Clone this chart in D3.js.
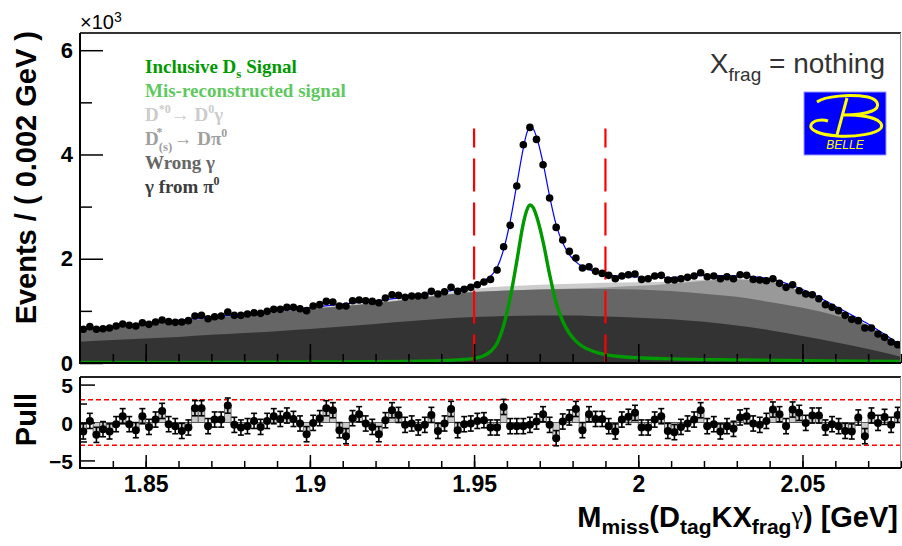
<!DOCTYPE html>
<html lang="en">
<head>
<meta charset="utf-8">
<script src="https://cdn.jsdelivr.net/npm/d3@7"></script>
<style>
  body { margin: 0; background: #fff; }
  svg { display: block; }
  .axis text { font-family: "Liberation Sans", Arial, sans-serif; font-weight: bold; fill: #000; }
  .axis line { stroke: #000; stroke-width: 1.5px; }
  .legend { font-family: "Liberation Serif", "Times New Roman", serif; font-weight: bold; font-size: 19px; }
  .title { font-family: "Liberation Sans", Arial, sans-serif; font-weight: bold; font-size: 29px; }
</style>
</head>
<body>
<svg width="902" height="546"></svg>
<script>
// binning of the histogram (GeV)
var binLow = 1.83, binWidth = 0.002;

// events per bin, in units of 10^3
var events = [
  0.646, 0.697, 0.646, 0.658, 0.671, 0.710, 0.748, 0.722, 0.710, 0.773,
  0.741, 0.786, 0.825, 0.793, 0.780, 0.786, 0.812, 0.901, 0.914, 0.850,
  0.888, 0.901, 0.978, 0.914, 0.914, 0.940, 0.965, 0.952, 0.991, 1.029,
  1.029, 1.067, 1.067, 1.042, 1.004, 1.093, 1.119, 1.182, 1.170, 1.093,
  1.093, 1.195, 1.208, 1.195, 1.182, 1.157, 1.246, 1.310, 1.297, 1.259,
  1.285, 1.285, 1.297, 1.374, 1.323, 1.368, 1.451, 1.374, 1.413, 1.451,
  1.502, 1.553, 1.604, 1.783, 2.231, 2.640, 3.394, 4.187, 4.519, 4.289,
  3.803, 3.164, 2.601, 2.359, 2.141, 2.013, 1.822, 1.847, 1.758, 1.719,
  1.681, 1.617, 1.668, 1.694, 1.707, 1.604, 1.617, 1.668, 1.681, 1.592,
  1.592, 1.617, 1.643, 1.668, 1.732, 1.655, 1.668, 1.617, 1.655, 1.617,
  1.694, 1.681, 1.604, 1.592, 1.579, 1.617, 1.528, 1.451, 1.502, 1.387,
  1.323, 1.310, 1.233, 1.119, 1.067, 1.004, 0.914, 0.837, 0.812, 0.671,
  0.671, 0.556, 0.492, 0.403, 0.352
];

// pull per bin
var pulls = [
  -1.18, 0.21, -1.63, -0.88, -1.18, -0.22, 0.83, -0.22, -1.01, 0.83,
  -0.58, 0.39, 1.53, -0.22, -0.48, -1.11, -0.66, 1.88, 1.88, -0.48,
  0.39, 0.39, 2.23, -0.31, -0.66, -0.48, 0.21, -0.58, 0.21, 0.83,
  0.47, 0.92, 0.47, -0.13, -1.54, -0.05, 0.57, 1.88, 1.62, -1.01,
  -1.80, 0.57, 1.09, -0.13, -0.58, -1.54, 0.30, 1.62, 1.00, -0.31,
  -0.13, -0.66, -0.31, 1.00, -1.11, -0.13, 1.79, -1.01, -0.22, -0.13,
  0.21, 0.30, -0.66, -0.66, 2.05, -0.48, -0.48, -0.48, -0.31, 0.13,
  1.09, -0.31, -2.07, 0.13, 0.66, 1.79, -1.01, 1.09, 0.47, 0.47,
  -0.48, -1.18, 0.39, 0.75, 1.27, -0.66, -0.66, 0.39, 0.83, -1.11,
  -1.27, -0.58, -0.13, 0.39, 1.62, -0.48, -0.22, -1.18, -0.48, -0.84,
  0.66, 0.83, -0.13, -0.31, 0.21, 1.71, 1.09, -0.48, 1.71, 1.27,
  -0.05, 0.92, 0.92, -0.66, -0.22, -0.48, -1.11, -1.18, 0.66, -1.80,
  0.92, -0.05, 0.74, -0.31, 1.00
];

// background components (stacked), sampled every 10 MeV
var compX = [1.83, 1.84, 1.85, 1.86, 1.87, 1.88, 1.89, 1.90, 1.91, 1.92, 1.93, 1.94, 1.95,
             1.96, 1.97, 1.98, 1.99, 2.00, 2.01, 2.02, 2.03, 2.04, 2.05, 2.06, 2.07, 2.08];
var gammaFromPi0 = [0.41, 0.44, 0.47, 0.50, 0.54, 0.575, 0.61, 0.65, 0.70, 0.75, 0.80, 0.85, 0.88,
                    0.90, 0.91, 0.91, 0.89, 0.87, 0.84, 0.79, 0.72, 0.63, 0.52, 0.40, 0.27, 0.12];
var wrongGamma = [0.21, 0.24, 0.27, 0.30, 0.32, 0.345, 0.37, 0.39, 0.39, 0.40, 0.42, 0.45, 0.48,
                  0.49, 0.50, 0.51, 0.53, 0.54, 0.54, 0.54, 0.55, 0.54, 0.54, 0.51, 0.43, 0.18];
var dsToDPi0 = [0, 0, 0, 0, 0, 0, 0, 0, 0, 0, 0, 0, 0,
                0, 0, 0.01, 0.03, 0.07, 0.14, 0.25, 0.33, 0.39, 0.30, 0.13, 0.02, 0];
var dStarToD0Gamma = [0.01, 0.01, 0.01, 0.01, 0.01, 0.01, 0.01, 0.01, 0.02, 0.02, 0.02, 0.03, 0.06,
                      0.08, 0.09, 0.09, 0.09, 0.07, 0.04, 0.02, 0.01, 0.01, 0, 0, 0, 0.01];

// inclusive Ds signal shape
var sigX = [1.83, 1.90, 1.93, 1.945, 1.95, 1.953, 1.955, 1.957, 1.959, 1.961, 1.963, 1.965, 1.966,
            1.967, 1.968, 1.969, 1.971, 1.973, 1.975, 1.977, 1.979, 1.981, 1.983, 1.986, 1.990,
            1.995, 2.00, 2.01, 2.03, 2.06, 2.08];
var sigY = [0.01, 0.02, 0.03, 0.06, 0.09, 0.14, 0.22, 0.38, 0.72, 1.25, 1.95, 2.68, 2.92,
            3.03, 2.98, 2.82, 2.33, 1.70, 1.15, 0.80, 0.57, 0.42, 0.32, 0.23, 0.16,
            0.12, 0.10, 0.08, 0.06, 0.04, 0.03];

// total fit
var fitX = [1.83, 1.85, 1.87, 1.89, 1.91, 1.93, 1.94, 1.945, 1.95, 1.953, 1.955, 1.957, 1.959,
            1.961, 1.963, 1.965, 1.966, 1.967, 1.968, 1.969, 1.971, 1.973, 1.975, 1.977, 1.979,
            1.981, 1.983, 1.986, 1.990, 1.995, 2.00, 2.01, 2.02, 2.03, 2.04, 2.045, 2.05, 2.055,
            2.06, 2.065, 2.07, 2.075, 2.08];
var fitY = [0.64, 0.76, 0.88, 1.00, 1.13, 1.27, 1.36, 1.41, 1.50, 1.58, 1.66, 1.83, 2.18,
            2.72, 3.42, 4.12, 4.40, 4.52, 4.49, 4.34, 3.84, 3.20, 2.65, 2.30, 2.08,
            1.94, 1.85, 1.77, 1.70, 1.66, 1.65, 1.64, 1.68, 1.67, 1.62, 1.53, 1.41, 1.26,
            1.09, 0.92, 0.75, 0.55, 0.33];

var cutLines = [1.95, 1.99];
var cutTop = 4.5;
var xTicks = [1.85, 1.9, 1.95, 2, 2.05];
var xMinor = d3.range(1.84, 2.0801, 0.01);
var yTicksTop = [0, 2, 4, 6];
var yMinorTop = [1, 3, 5];
var yTicksPull = [-5, 0, 5];
var yMinorPull = [-2.5, 2.5];

var svg = d3.select("svg");

var x = d3.scaleLinear().domain([1.83, 2.08]).range([80, 901]);
var yTop = d3.scaleLinear().domain([0, 6.33]).range([363, 33]);
var yPull = d3.scaleLinear().domain([-6, 6]).range([468, 377]);

var defs = svg.append("defs");
defs.append("clipPath").attr("id", "clipTop")
  .append("rect").attr("x", 80).attr("y", 33).attr("width", 821).attr("height", 330);
defs.append("clipPath").attr("id", "clipPull")
  .append("rect").attr("x", 80).attr("y", 377).attr("width", 821).attr("height", 91);
defs.append("clipPath").attr("id", "clipExp")
  .append("rect").attr("x", 0).attr("y", 12).attr("width", 200).attr("height", 30);

// ---------- top panel ----------
var panelTop = svg.append("g").attr("clip-path", "url(#clipTop)");

var rows = compX.map(function (m, i) {
  return { m: m, pi0: gammaFromPi0[i], wrong: wrongGamma[i], dspi0: dsToDPi0[i], dstar: dStarToD0Gamma[i] };
});
var layers = d3.stack().keys(["pi0", "wrong", "dspi0", "dstar"])(rows);
var fills = { pi0: "#333333", wrong: "#666666", dspi0: "#999999", dstar: "#cccccc" };

var area = d3.area()
  .x(function (d) { return x(d.data.m); })
  .y0(yTop(0))
  .y1(function (d) { return yTop(d[1]); })
  .curve(d3.curveMonotoneX);

panelTop.selectAll("path.bg")
  .data(layers.slice().reverse())
  .enter().append("path")
  .attr("class", "bg")
  .attr("d", area)
  .attr("fill", function (d) { return fills[d.key]; });

var line = d3.line().curve(d3.curveMonotoneX);

panelTop.append("path")
  .attr("d", line(sigX.map(function (m, i) { return [x(m), yTop(sigY[i])]; })))
  .attr("fill", "none")
  .attr("stroke", "#009900")
  .attr("stroke-width", 3.4);

panelTop.selectAll("line.cut")
  .data(cutLines)
  .enter().append("line")
  .attr("class", "cut")
  .attr("x1", function (d) { return x(d); })
  .attr("x2", function (d) { return x(d); })
  .attr("y1", yTop(cutTop))
  .attr("y2", yTop(0))
  .attr("stroke", "#ff0000")
  .attr("stroke-width", 2.2)
  .attr("stroke-dasharray", "33 11")
  .attr("stroke-dashoffset", 14);

panelTop.append("path")
  .attr("d", line(fitX.map(function (m, i) { return [x(m), yTop(fitY[i])]; })))
  .attr("fill", "none")
  .attr("stroke", "#0000ff")
  .attr("stroke-width", 1.2);

panelTop.selectAll("circle")
  .data(events)
  .enter().append("circle")
  .attr("cx", function (d, i) { return x(binLow + (i + 0.5) * binWidth); })
  .attr("cy", function (d) { return yTop(d); })
  .attr("r", 3.8)
  .attr("fill", "#000");

// top frame
svg.append("line").attr("x1", 80).attr("x2", 901).attr("y1", 33).attr("y2", 33)
  .attr("stroke", "#333").attr("stroke-width", 1.8);
svg.append("line").attr("x1", 900.5).attr("x2", 900.5).attr("y1", 33).attr("y2", 363)
  .attr("stroke", "#999").attr("stroke-width", 1);

// top axes
svg.append("g").attr("class", "axis").attr("transform", "translate(80,0)")
  .call(d3.axisLeft(yTop).tickValues(yTicksTop).tickSize(-23).tickPadding(7).tickFormat(d3.format("d")))
  .call(function (g) { g.selectAll("text").style("font-size", "22px"); });
svg.append("g").attr("class", "axis").attr("transform", "translate(80,0)")
  .call(d3.axisLeft(yTop).tickValues(yMinorTop).tickSize(-12).tickFormat(""));
svg.append("g").attr("class", "axis").attr("transform", "translate(0,363)")
  .call(d3.axisBottom(x).tickValues(xTicks).tickSize(-19).tickFormat(""));
svg.append("g").attr("class", "axis").attr("transform", "translate(0,363)")
  .call(d3.axisBottom(x).tickValues(xMinor).tickSize(-9).tickFormat(""));
svg.selectAll(".axis .domain").remove();
svg.append("line").attr("x1", 80).attr("x2", 80).attr("y1", 33).attr("y2", 364)
  .attr("stroke", "#000").attr("stroke-width", 2);
svg.append("line").attr("x1", 79).attr("x2", 901).attr("y1", 363).attr("y2", 363)
  .attr("stroke", "#000").attr("stroke-width", 2);

// ---------- pull panel ----------
var pull = svg.append("g").attr("clip-path", "url(#clipPull)");

pull.selectAll("rect")
  .data(pulls)
  .enter().append("rect")
  .attr("x", function (d, i) { return x(binLow + i * binWidth); })
  .attr("width", x(binLow + binWidth) - x(binLow))
  .attr("y", function (d) { return yPull(Math.max(d, 0)); })
  .attr("height", function (d) { return Math.abs(yPull(d) - yPull(0)); })
  .attr("fill", "#cccccc")
  .attr("stroke", "#555")
  .attr("stroke-width", 0.8);

pull.append("line").attr("x1", 80).attr("x2", 901).attr("y1", yPull(0)).attr("y2", yPull(0))
  .attr("stroke", "#555").attr("stroke-width", 1);

pull.selectAll("line.sigma")
  .data([-3, 3])
  .enter().append("line")
  .attr("class", "sigma")
  .attr("x1", 80).attr("x2", 901)
  .attr("y1", function (d) { return yPull(d); })
  .attr("y2", function (d) { return yPull(d); })
  .attr("stroke", "#ff0000")
  .attr("stroke-width", 1.3)
  .attr("stroke-dasharray", "5 3");

var eb = pull.selectAll("g.eb")
  .data(pulls)
  .enter().append("g")
  .attr("class", "eb")
  .attr("transform", function (d, i) { return "translate(" + x(binLow + (i + 0.5) * binWidth) + ",0)"; });
eb.append("line")
  .attr("y1", function (d) { return yPull(d - 1); })
  .attr("y2", function (d) { return yPull(d + 1); })
  .attr("stroke", "#000").attr("stroke-width", 1.6);
eb.append("line")
  .attr("x1", -3).attr("x2", 3)
  .attr("y1", function (d) { return yPull(d + 1); })
  .attr("y2", function (d) { return yPull(d + 1); })
  .attr("stroke", "#000").attr("stroke-width", 1.6);
eb.append("line")
  .attr("x1", -3).attr("x2", 3)
  .attr("y1", function (d) { return yPull(d - 1); })
  .attr("y2", function (d) { return yPull(d - 1); })
  .attr("stroke", "#000").attr("stroke-width", 1.6);
eb.append("circle")
  .attr("cy", function (d) { return yPull(d); })
  .attr("r", 4)
  .attr("fill", "#000");

svg.append("line").attr("x1", 80).attr("x2", 901).attr("y1", 377).attr("y2", 377)
  .attr("stroke", "#222").attr("stroke-width", 1.8);
svg.append("line").attr("x1", 900.5).attr("x2", 900.5).attr("y1", 377).attr("y2", 468)
  .attr("stroke", "#999").attr("stroke-width", 1);

svg.append("g").attr("class", "axis").attr("transform", "translate(80,0)")
  .call(d3.axisLeft(yPull).tickValues(yTicksPull).tickSize(-15).tickPadding(7).tickFormat(d3.format("d")))
  .call(function (g) { g.selectAll("text").style("font-size", "21px").attr("dy", "0.38em"); });
svg.append("g").attr("class", "axis").attr("transform", "translate(80,0)")
  .call(d3.axisLeft(yPull).tickValues(yMinorPull).tickSize(-7).tickFormat(""));
svg.append("g").attr("class", "axis").attr("transform", "translate(0,468)")
  .call(d3.axisBottom(x).tickValues(xTicks).tickSize(-13).tickPadding(8).tickFormat(d3.format("")))
  .call(function (g) { g.selectAll("text").style("font-size", "23px"); });
svg.append("g").attr("class", "axis").attr("transform", "translate(0,468)")
  .call(d3.axisBottom(x).tickValues(xMinor).tickSize(-7).tickFormat(""));
svg.selectAll(".axis .domain").remove();
svg.append("line").attr("x1", 80).attr("x2", 80).attr("y1", 377).attr("y2", 469)
  .attr("stroke", "#000").attr("stroke-width", 2);
svg.append("line").attr("x1", 79).attr("x2", 901).attr("y1", 468).attr("y2", 468)
  .attr("stroke", "#000").attr("stroke-width", 2);

// ---------- texts ----------
// helper: parts = [text, shift, size, extra style, dx]
function rich(sel, parts) {
  var cur = 0;
  parts.forEach(function (p) {
    var shift = p[1] || 0;
    var t = sel.append("tspan").text(p[0]).attr("dy", shift - cur);
    if (p[2]) t.style("font-size", p[2] + "px");
    if (p[3]) t.attr("style", (p[2] ? "font-size:" + p[2] + "px;" : "") + p[3]);
    if (p[4]) t.attr("dx", p[4]);
    cur = shift;
  });
}

svg.append("text").attr("class", "title")
  .attr("transform", "translate(36,31) rotate(-90)")
  .attr("text-anchor", "end")
  .text("Events / ( 0.002 GeV )");
svg.append("text").attr("class", "title")
  .attr("transform", "translate(36,393) rotate(-90)")
  .attr("text-anchor", "end")
  .text("Pull");

var xt = svg.append("text").attr("class", "title")
  .attr("x", 898).attr("y", 527).attr("text-anchor", "end");
rich(xt, [["M", 0], ["miss", 7, 21], ["(D", 0], ["tag", 7, 21], ["KX", 0], ["frag", 7, 21],
          ["\u03b3", -3, 26, "font-family:'Liberation Serif',serif;font-weight:normal;"], [") [GeV]", 0]]);

var expo = svg.append("g");
expo.append("text").attr("x", 80).attr("y", 29)
  .style("font-family", "'Liberation Sans', Arial, sans-serif").style("font-size", "20px")
  .text("\u00d710");
expo.append("text").attr("x", 114).attr("y", 22).attr("clip-path", "url(#clipExp)")
  .style("font-family", "'Liberation Sans', Arial, sans-serif").style("font-size", "14px")
  .text("3");

var xf = svg.append("text").attr("x", 885).attr("y", 73).attr("text-anchor", "end")
  .style("font-family", "'Liberation Sans', Arial, sans-serif").style("font-size", "28px")
  .attr("fill", "#333");
rich(xf, [["X", 0], ["frag", 8, 19], [" = nothing", 0]]);

// legend
var legendColors = ["#009900", "#5fc95f", "#cccccc", "#a0a0a0", "#666666", "#3c3c3c"];
var legendParts = [
  [["Inclusive D", 0], ["s", 5, 13], [" Signal", 0]],
  [["Mis-reconstructed signal", 0]],
  [["D", 0], ["*0", -8, 12], ["\u2192 D", 0], ["0", -8, 12], ["\u03b3", 0]],
  [["D", 0], ["(s)", 6, 13], ["*", -9, 12, null, -16], ["\u2192 D\u03c0", 0, null, null, 11], ["0", -8, 12]],
  [["Wrong \u03b3", 0]],
  [["\u03b3  from \u03c0", 0], ["0", -8, 12]]
];
legendParts.forEach(function (parts, i) {
  var t = svg.append("text").attr("class", "legend")
    .attr("x", 145).attr("y", 73 + i * 24)
    .attr("fill", legendColors[i]);
  rich(t, parts);
});

// Belle logo
var logo = svg.append("g");
logo.append("rect").attr("x", 804).attr("y", 92).attr("width", 82).attr("height", 63)
  .attr("fill", "#0000ff").attr("stroke", "#9a9aff").attr("stroke-width", 1);
logo.append("path")
  .attr("d", "M817 102 C825 96 850 94 868 97 C880 100 880 108 872 111 C865 114 852 115 843 115" +
             " C870 114 885 121 881 128 C877 134 855 137 838 136 C820 135 809 130 811 125 C813 120 822 119 828 121" +
             " M847 98 L837 135")
  .attr("fill", "none").attr("stroke", "#ffff00").attr("stroke-width", 3);
logo.append("text").attr("x", 845).attr("y", 149).attr("text-anchor", "middle")
  .style("font-family", "'Liberation Sans', Arial, sans-serif").style("font-size", "12px")
  .style("font-style", "italic").attr("fill", "#ffff00")
  .text("BELLE");
</script>
</body>
</html>
